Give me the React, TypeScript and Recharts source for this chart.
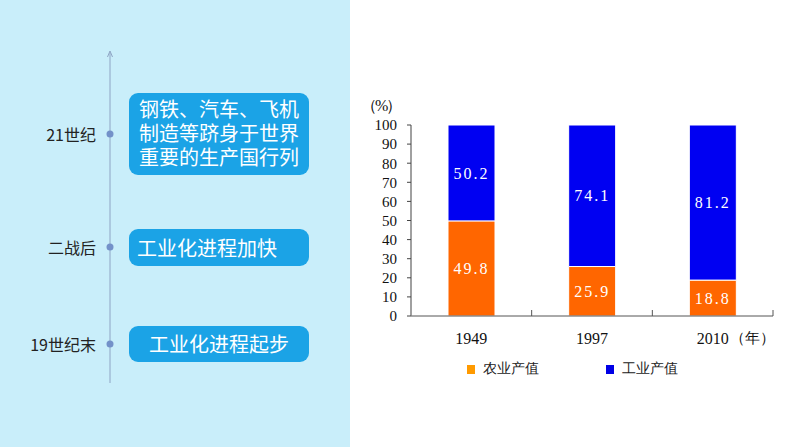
import { BarChart, Bar, XAxis, YAxis, LabelList } from 'recharts';

// chart data
const years = ['1949', '1997', '2010'];
const agriculture = [49.8, 25.9, 18.8];
const industry = [50.2, 74.1, 81.2];
const yTicks = [0, 10, 20, 30, 40, 50, 60, 70, 80, 90, 100];
const seriesNames = ['农业产值', '工业产值'];
const yearUnit = '（年）';
const percentUnit = '（%）';

// timeline data
const eras = ['21世纪', '二战后', '19世纪末'];
const events = [
  ['钢铁、汽车、飞机', '制造等跻身于世界', '重要的生产国行列'],
  ['工业化进程加快'],
  ['工业化进程起步'],
];

const BAR_ORANGE = '#ff6600';
const BAR_BLUE = '#0000f2';
const LEGEND_COLORS = ['#ff9a00', '#0000e6'];

const CHART_LEFT = 350;
const CHART_W = 444;
const CHART_H = 447;
const MARGIN = { top: 125, right: 21, left: 21, bottom: 101 };
const Y_AXIS_W = 40;
const X_AXIS_H = 30;
const AXIS_Y = CHART_H - MARGIN.bottom - X_AXIS_H;
const PLOT_W = CHART_W - MARGIN.left - MARGIN.right - Y_AXIS_W;
const BAND = PLOT_W / years.length;

const SERIF = '"Liberation Serif", "DejaVu Serif", serif';
const SANS = '"Noto Sans CJK SC", "Noto Sans", sans-serif';

const data = years.map((y, i) => ({
  year: y,
  agriculture: agriculture[i],
  industry: industry[i],
}));

const YearTick = (props: any) => {
  const { x, payload, index } = props;
  const last = index === years.length - 1;
  return (
    <g>
      <line x1={x + BAND / 2} x2={x + BAND / 2} y1={AXIS_Y - 6} y2={AXIS_Y} stroke="#555" strokeWidth={1} />
      <text x={x} y={AXIS_Y + 28} textAnchor="middle" fontSize={16} fontFamily={SERIF} fill="#111">
        {payload.value}
      </text>
      {last && (
        <text x={x + 17} y={AXIS_Y + 27} textAnchor="start" fontSize={15} fontFamily={SERIF} fill="#111">
          {yearUnit}
        </text>
      )}
    </g>
  );
};

const boxStyle: React.CSSProperties = {
  position: 'absolute',
  left: 129,
  width: 180,
  background: '#1ba3e6',
  borderRadius: 9,
  color: '#fff',
  fontFamily: SANS,
  fontSize: 20,
  boxSizing: 'border-box',
};

export default function App() {
  const eraY = [134, 247, 344];
  const lineY = [110, 134, 158];
  return (
    <div style={{ position: 'absolute', left: 0, top: 0, width: 794, height: 447, background: '#fff', overflow: 'hidden' }}>
      {/* left panel */}
      <div style={{ position: 'absolute', left: 0, top: 0, width: 350, height: 447, background: '#c9eefa' }} />
      <svg style={{ position: 'absolute', left: 0, top: 0 }} width={350} height={447}>
        <line x1={110} x2={110} y1={53} y2={383} stroke="#8ea4c4" strokeWidth={1} />
        <path d="M107.5 57 L110 51 L112.5 57" fill="none" stroke="#8ea4c4" strokeWidth={1} />
        {eraY.map((y, i) => (
          <circle key={i} cx={110} cy={y} r={3.5} fill="#7391c9" />
        ))}
      </svg>
      {eras.map((e, i) => (
        <div
          key={e}
          style={{
            position: 'absolute',
            right: 794 - 96,
            top: eraY[i] - 12,
            lineHeight: '24px',
            fontSize: 16,
            fontFamily: SANS,
            color: '#222',
            whiteSpace: 'nowrap',
          }}
        >
          {e}
        </div>
      ))}
      <div style={{ ...boxStyle, top: 93, height: 82 }} />
      <svg style={{ position: 'absolute', left: 0, top: 0 }} width={350} height={447}>
        {events[0].map((l, i) => (
          <text key={l} x={139} y={lineY[i]} dy="0.36em" fontSize={20} fontFamily={SANS} fill="#fff">
            {l}
          </text>
        ))}
      </svg>
      <div style={{ ...boxStyle, top: 229, height: 37, padding: '0 0 0 8px', lineHeight: '37px' }}>{events[1][0]}</div>
      <div style={{ ...boxStyle, top: 326, height: 36, textAlign: 'center', lineHeight: '36px' }}>{events[2][0]}</div>

      {/* chart */}
      <div style={{ position: 'absolute', left: CHART_LEFT, top: 0, width: CHART_W, height: CHART_H }}>
        <BarChart width={CHART_W} height={CHART_H} data={data} margin={MARGIN}>
          <XAxis
            dataKey="year"
            height={X_AXIS_H}
            tickLine={false}
            axisLine={{ stroke: '#555', strokeWidth: 1 }}
            tick={<YearTick />}
            interval={0}
          />
          <YAxis
            width={Y_AXIS_W}
            domain={[0, 100]}
            ticks={yTicks}
            interval={0}
            tickSize={4}
            tickMargin={10}
            axisLine={{ stroke: '#808080', strokeWidth: 1.5 }}
            tickLine={{ stroke: '#444' }}
            tick={{ fontSize: 15, fontFamily: SERIF, fill: '#111' }}
          />
          <Bar dataKey="agriculture" stackId="a" fill={BAR_ORANGE} stroke="#fff" strokeWidth={1} barSize={47} isAnimationActive={false}>
            <LabelList
              dataKey="agriculture"
              position="center"
              fill="#fff"
              fontSize={16}
              fontFamily={SERIF}
              letterSpacing={2}
              formatter={(v: any) => Number(v).toFixed(1)}
            />
          </Bar>
          <Bar dataKey="industry" stackId="a" fill={BAR_BLUE} stroke="#fff" strokeWidth={1} barSize={47} isAnimationActive={false}>
            <LabelList
              dataKey="industry"
              position="center"
              fill="#fff"
              fontSize={16}
              fontFamily={SERIF}
              letterSpacing={2}
              formatter={(v: any) => Number(v).toFixed(1)}
            />
          </Bar>
        </BarChart>
        <div
          style={{
            position: 'absolute',
            left: 361 - CHART_LEFT,
            top: 94,
            fontSize: 16,
            lineHeight: '24px',
            fontFamily: SERIF,
            color: '#111',
            whiteSpace: 'nowrap',
            letterSpacing: -2,
          }}
        >
          {percentUnit}
        </div>
      </div>

      {/* legend */}
      {seriesNames.map((n, i) => (
        <div
          key={n}
          style={{
            position: 'absolute',
            left: i === 0 ? 467 : 606,
            top: 359,
            display: 'flex',
            alignItems: 'center',
            fontSize: 14,
            fontFamily: SERIF,
            color: '#222',
            whiteSpace: 'nowrap',
            lineHeight: '20px',
          }}
        >
          <span style={{ display: 'inline-block', width: 8, height: 9, background: LEGEND_COLORS[i], marginRight: 8 }} />
          {n}
        </div>
      ))}
    </div>
  );
}
